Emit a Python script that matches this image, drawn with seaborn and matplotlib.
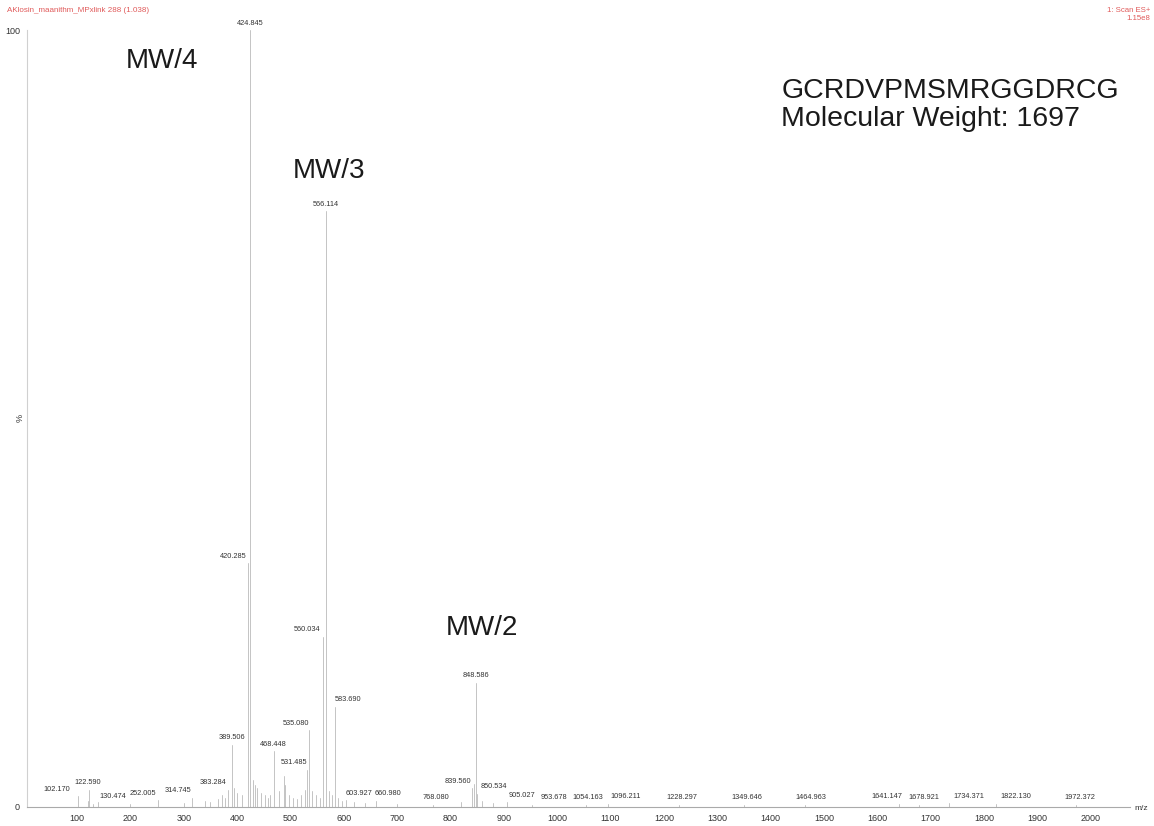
import numpy as np
import pandas as pd
import matplotlib
matplotlib.use("Agg")
import matplotlib.pyplot as plt
import seaborn as sns

# labelled peaks (m/z, relative intensity %)
peak_mz = [102.170, 122.590, 130.474, 252.005, 314.745, 383.284, 389.506,
           420.285, 424.845, 468.448, 531.485, 535.080, 560.034, 566.114,
           583.690, 603.927, 660.980, 768.080, 839.560, 848.586, 850.534,
           905.027, 953.678, 1054.163, 1096.211, 1228.297, 1349.646,
           1464.963, 1641.147, 1678.921, 1734.371, 1822.130, 1972.372]
peak_int = [1.4, 2.2, 0.4, 0.9, 1.2, 2.2, 8.0,
            31.4, 100.0, 7.2, 4.8, 9.9, 21.9, 76.7,
            12.9, 0.9, 0.8, 0.3, 2.4, 16.0, 1.7,
            0.6, 0.3, 0.3, 0.4, 0.3, 0.3,
            0.3, 0.4, 0.3, 0.5, 0.4, 0.3]
# horizontal shift of each label from its peak (pixels)
label_dx = [-21, -1, 19, -15, -14, -15, 0,
            -15, 0, 0, -13, -13, -15, 0,
            13, 13, 12, 2, -14, 0, 16,
            15, 21, 2, 17, 3, 3,
            6, -12, 5, 20, 20, 4]

# small unlabelled peaks (baseline grass)
minor_mz = [120, 140, 200, 300, 340, 350, 365, 372, 378, 395, 400, 410, 430,
            433, 438, 445, 452, 458, 462, 478, 487, 490, 497, 505, 512, 520,
            527, 540, 548, 555, 572, 578, 590, 596, 620, 640, 700, 820, 845,
            860, 880]
minor_int = [0.8, 0.6, 0.4, 0.5, 0.8, 0.6, 1.0, 1.5, 1.2, 2.5, 1.8, 1.5, 3.5,
             2.8, 2.5, 1.8, 1.5, 1.2, 1.6, 2.0, 4.0, 2.8, 1.5, 1.2, 1.0, 1.5,
             2.2, 2.0, 1.5, 1.2, 2.0, 1.5, 1.2, 0.8, 0.6, 0.5, 0.4, 0.6, 3.0,
             0.8, 0.5]

x_ticks = list(range(100, 2001, 100))

all_mz = peak_mz + minor_mz
all_int = peak_int + minor_int
rows = []
for i, (m, v) in enumerate(zip(all_mz, all_int)):
    rows.append({"mz": m, "intensity": 0.0, "peak": i})
    rows.append({"mz": m, "intensity": v, "peak": i})
df = pd.DataFrame(rows)

sns.set_style("white")
plt.rcParams["font.family"] = ["Liberation Sans", "DejaVu Sans"]

fig = plt.figure(figsize=(11.54, 8.26), dpi=100)
ax = fig.add_axes([27 / 1154, 19 / 826, 1103 / 1154, 777 / 826])

sns.lineplot(data=df, x="mz", y="intensity", units="peak", estimator=None,
             color="#c4c4c4", lw=0.7, ax=ax, legend=False)

ax.set_xlim(6, 2074)
ax.set_ylim(0, 100)

for m, v, dx in zip(peak_mz, peak_int, label_dx):
    ax.annotate(f"{m:.3f}", xy=(m, v), xytext=(dx * 0.72, 5), textcoords="offset points",
                ha="center", va="center", fontsize=5.3, color="#333333")

# big annotations
ax.text(259, 96, "MW/4", fontsize=20, ha="center", va="center", color="#1a1a1a")
ax.text(572, 81.9, "MW/3", fontsize=20, ha="center", va="center", color="#1a1a1a")
ax.text(859, 23.0, "MW/2", fontsize=20, ha="center", va="center", color="#1a1a1a")
ax.text(1420, 92.1, "GCRDVPMSMRGGDRCG", fontsize=20.5,
        ha="left", va="center", color="#1a1a1a")
ax.text(1420, 88.5, "Molecular Weight: 1697", fontsize=20.5,
        ha="left", va="center", color="#1a1a1a")

ax.set_xticks(x_ticks)
ax.set_xticklabels([str(t) for t in x_ticks])
ax.set_yticks([0, 100])
ax.set_yticklabels(["0", "100"])
ax.tick_params(axis="both", labelsize=6.5, colors="#333333", length=2, width=0.5,
               direction="out", pad=3)
ax.tick_params(axis="x", colors="#999999", labelcolor="#333333")
ax.set_xlabel("")
ax.set_ylabel("")

for s in ["top", "right"]:
    ax.spines[s].set_visible(False)
ax.spines["left"].set_color("#d0d0d0")
ax.spines["left"].set_linewidth(0.8)
ax.spines["bottom"].set_color("#aaaaaa")
ax.spines["bottom"].set_linewidth(0.8)

fig.text(20 / 1154, 1 - 418 / 826, "%", fontsize=6.5, ha="center", va="center",
         rotation=90, color="#333333")
fig.text(1148 / 1154, 1 - 808 / 826, "m/z", fontsize=6, ha="right", va="center",
         color="#333333")

# header lines in the MassLynx style
fig.text(7 / 1154, 1 - 11 / 826, "AKlosin_maanithm_MPxlink 288 (1.038)", fontsize=5.8,
         ha="left", va="center", color="#e05a5a")
fig.text(1150 / 1154, 1 - 11 / 826, "1: Scan ES+", fontsize=5.6, ha="right",
         va="center", color="#e05a5a")
fig.text(1150 / 1154, 1 - 19 / 826, "1.15e8", fontsize=5.6, ha="right",
         va="center", color="#e05a5a")

fig.savefig("out.png", dpi=100)
